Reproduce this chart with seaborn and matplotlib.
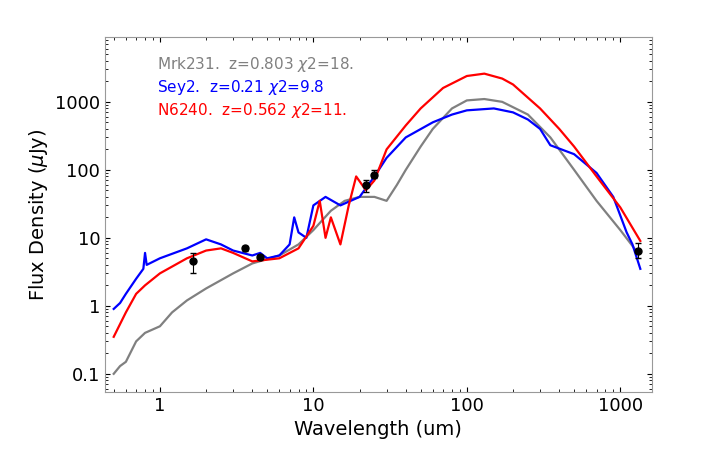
import matplotlib
matplotlib.use("Agg")
import matplotlib.pyplot as plt
import seaborn as sns
import numpy as np

gray_x = [0.5,0.55,0.6,0.7,0.8,1,1.2,1.5,2,3,4,6,8,10,13,16,20,25,30,35,40,50,60,80,100,130,170,250,350,500,700,1000,1300]
gray_y = [0.1,0.13,0.15,0.3,0.4,0.5,0.8,1.2,1.8,3,4.2,5.5,8,13,25,35,40,40,35,60,100,220,400,800,1050,1100,1000,650,300,100,35,13,6]
blue_x = [0.5,0.55,0.6,0.7,0.78,0.8,0.82,1,1.5,2,2.5,3,4,4.5,5,6,7,7.5,8,9,10,12,15,20,25,30,40,60,80,100,150,200,250,300,350,500,700,900,1100,1200,1350]
blue_y = [0.9,1.1,1.5,2.5,3.5,6,4,5,7,9.5,8,6.5,5.5,6,5,5.5,8,20,12,10,30,40,30,40,80,150,300,500,650,750,800,700,550,400,230,170,90,40,12,8,3.5]
red_x = [0.5,0.6,0.7,0.8,1,1.5,2,2.5,3,4,6,8,10,11,12,13,15,17,19,22,25,30,40,50,70,100,130,170,200,300,400,500,700,1000,1350]
red_y = [0.35,0.8,1.5,2,3,5,6.5,7,6,4.5,5,7,15,35,10,20,8,30,80,50,70,200,450,800,1600,2400,2600,2200,1800,800,400,220,80,28,9]
obs_x = [1.65,3.6,4.5,22,25,1300]
obs_y = [4.5,7,5.2,60,85,6.5]
obs_lo = [3.0,6.5,4.8,48,75,5.0]
obs_hi = [6.0,7.5,5.6,72,100,8.5]
labels = ["Mrk231.  z=0.803 $\\chi$2=18.", "Sey2.  z=0.21 $\\chi$2=9.8", "N6240.  z=0.562 $\\chi$2=11."]
colors = ["gray", "blue", "red"]

fig = plt.figure(figsize=(7.06,4.74), dpi=100)
ax = fig.add_axes([0.149,0.173,0.774,0.749])
for xs, ys, c in [(gray_x,gray_y,"gray"),(blue_x,blue_y,"blue"),(red_x,red_y,"red")]:
    sns.lineplot(x=xs, y=ys, color=c, lw=1.6, ax=ax, sort=False)
ox = np.array(obs_x); oy = np.array(obs_y)
ax.errorbar(ox, oy, yerr=[oy-np.array(obs_lo), np.array(obs_hi)-oy], fmt="o", color="black", ms=5, capsize=2, elinewidth=0.8, zorder=5)
ax.set_xscale("log"); ax.set_yscale("log")
ax.set_xlim(0.44,1600); ax.set_ylim(0.054,9000)
ax.set_xticks([1,10,100,1000]); ax.set_xticklabels(["1","10","100","1000"])
ax.set_yticks([0.1,1,10,100,1000]); ax.set_yticklabels(["0.1","1","10","100","1000"])
ax.tick_params(labelsize=13, which="both", direction="in", top=True, right=True)
ax.set_xlabel("Wavelength (um)", fontsize=14)
ax.set_ylabel("Flux Density ($\\mu$Jy)", fontsize=14)
for i,(l,c) in enumerate(zip(labels,colors)):
    ax.text(0.095, 0.95-i*0.065, l, color=c, transform=ax.transAxes, fontsize=11, va="top")
for s in ax.spines.values(): s.set_color("#999999")
fig.savefig("out.png", dpi=100)
